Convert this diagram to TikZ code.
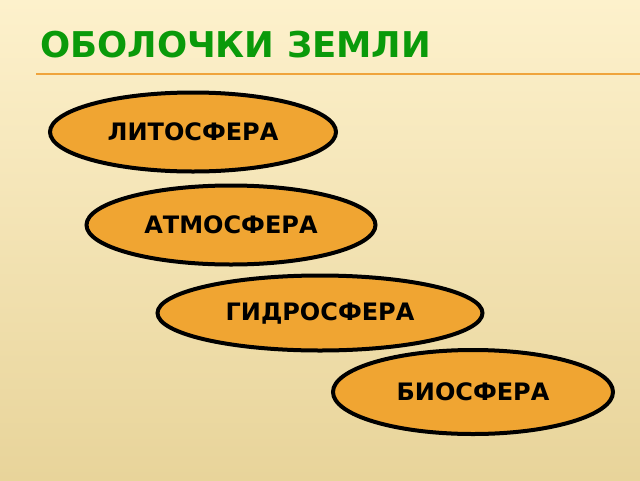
\documentclass[tikz,border=0pt]{standalone}
\usepackage{fontspec}
\setmainfont{DejaVu Sans}
\usetikzlibrary{shapes.geometric}
\definecolor{bgtop}{HTML}{FDF1CC}
\definecolor{bgbot}{HTML}{E8D49A}
\definecolor{titlegreen}{HTML}{0A9A0A}
\definecolor{lineorange}{HTML}{F0A43C}
\definecolor{ovalfill}{HTML}{F0A532}
\tikzset{
  oval/.style={ellipse, draw=black, line width=4pt, fill=ovalfill, inner sep=0pt,
    font=\bfseries\fontsize{24}{28}\selectfont},
}
\begin{document}
\begin{tikzpicture}[x=1pt,y=-1pt]
\useasboundingbox (0,0) rectangle (640,480);
\shade[top color=bgtop, bottom color=bgbot] (0,0) rectangle (640,480);
\node[anchor=base west, text=titlegreen, font=\bfseries\fontsize{35.5}{40}\selectfont, inner sep=0pt] (title) at (40,57) {ОБОЛОЧКИ ЗЕМЛИ};
\coordinate (la) at (36,74);
\coordinate (lb) at (640,74);
\draw[lineorange, line width=1.2pt] (la) -- (lb);
\node[oval, minimum width=286pt, minimum height=79pt] (lit) at (193,132) {ЛИТОСФЕРА};
\node[oval, minimum width=289pt, minimum height=79pt] (atm) at (231,225) {АТМОСФЕРА};
\node[oval, minimum width=325pt, minimum height=75pt] (gid) at (320,313) {ГИДРОСФЕРА};
\node[oval, minimum width=280pt, minimum height=84pt] (bio) at (473,392) {БИОСФЕРА};
\end{tikzpicture}
\end{document}
